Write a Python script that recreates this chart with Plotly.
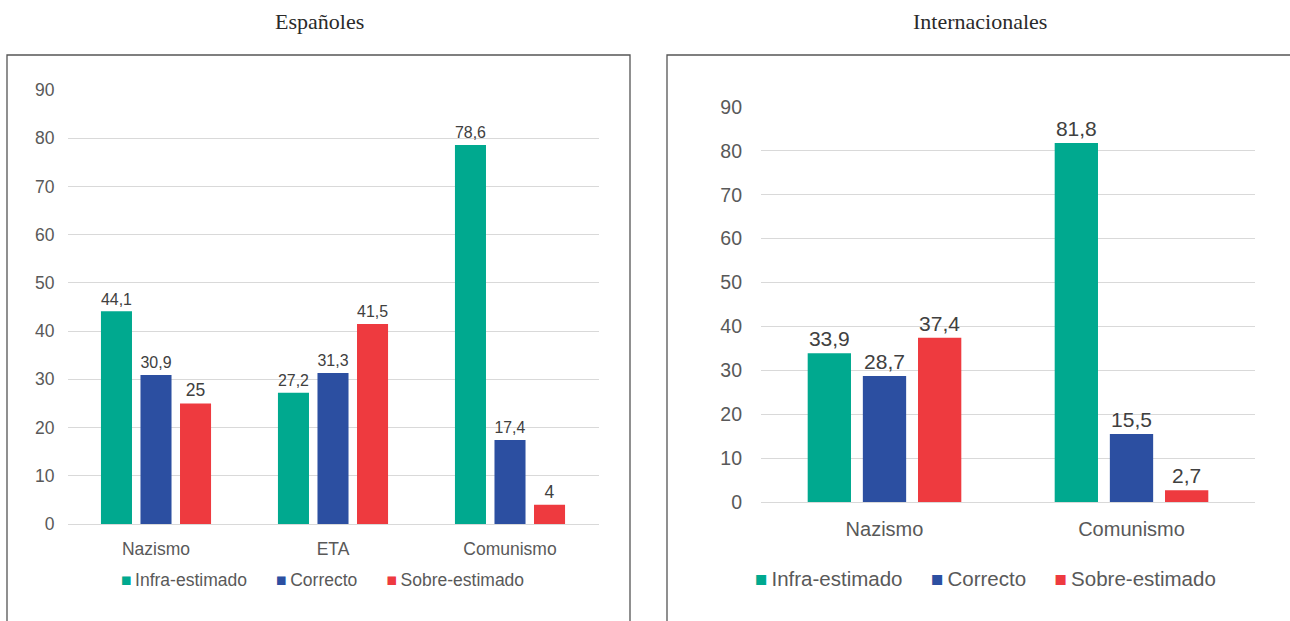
import plotly.graph_objects as go

W, H = 1290, 621

series = ["Infra-estimado", "Correcto", "Sobre-estimado"]
colors = ["#00A98F", "#2C4FA1", "#EE3A3F"]

cats_es = ["Nazismo", "ETA", "Comunismo"]
vals_es = {
    "Infra-estimado": [44.1, 27.2, 78.6],
    "Correcto": [30.9, 31.3, 17.4],
    "Sobre-estimado": [25, 41.5, 4],
}

cats_int = ["Nazismo", "Comunismo"]
vals_int = {
    "Infra-estimado": [33.9, 81.8],
    "Correcto": [28.7, 15.5],
    "Sobre-estimado": [37.4, 2.7],
}

y_ticks = [0, 10, 20, 30, 40, 50, 60, 70, 80, 90]

FONT = "Liberation Sans"
grid = "#D9D9D9"
tickc = "#595959"
labc = "#404040"


def fmt(v):
    return f"{v:g}".replace(".", ",")


fig = go.Figure()

for s, c in zip(series, colors):
    fig.add_trace(go.Bar(
        x=cats_es, y=vals_es[s], name=s, marker_color=c,
        marker_line_width=0, showlegend=False,
        text=[fmt(v) for v in vals_es[s]], textposition="outside",
        textfont=dict(size=17.5, color=labc, family=FONT),
        cliponaxis=False, xaxis="x", yaxis="y",
    ))

for s, c in zip(series, colors):
    fig.add_trace(go.Bar(
        x=cats_int, y=vals_int[s], name=s, marker_color=c,
        marker_line_width=0, showlegend=False,
        text=[fmt(v) for v in vals_int[s]], textposition="outside",
        textfont=dict(size=21, color=labc, family=FONT),
        cliponaxis=False, xaxis="x2", yaxis="y2",
    ))


def px_x(p):
    return p / W


def px_y(p):
    return 1 - p / H


def legend_text(gap):
    parts = []
    for s, c in zip(series, colors):
        parts.append(f'<span style="color:{c}">■</span>\u2009{s}')
    return gap.join(parts)


fig.update_layout(
    width=W, height=H,
    margin=dict(l=0, r=0, t=0, b=0, autoexpand=False),
    paper_bgcolor="white", plot_bgcolor="white",
    barmode="group",
    bargap=0.33, bargroupgap=0.215,
    showlegend=False,
    xaxis=dict(domain=[px_x(67.5), px_x(598.5)], showgrid=False,
               showline=True, linecolor=grid, linewidth=1,
               tickfont=dict(size=17.5, color=tickc, family=FONT),
               ticks="", ticklabelstandoff=9, anchor="y", automargin=False),
    yaxis=dict(domain=[px_y(524), px_y(90)], range=[0, 90],
               tickvals=y_ticks, showgrid=True, gridcolor=grid,
               zeroline=False, showline=False,
               tickfont=dict(size=17.5, color=tickc, family=FONT),
               ticks="", ticklabelstandoff=12, anchor="x", automargin=False),
    xaxis2=dict(domain=[px_x(761), px_x(1255)], showgrid=False,
                showline=True, linecolor=grid, linewidth=1,
                tickfont=dict(size=20, color=tickc, family=FONT),
                ticks="", ticklabelstandoff=9, anchor="y2", automargin=False),
    yaxis2=dict(domain=[px_y(502), px_y(107)], range=[0, 90],
                tickvals=y_ticks, showgrid=True, gridcolor=grid,
                zeroline=False, showline=False,
                tickfont=dict(size=19.5, color=tickc, family=FONT),
                ticks="", ticklabelstandoff=18, anchor="x2", automargin=False),
    annotations=[
        dict(text="Españoles", x=px_x(319), y=px_y(21), xref="paper", yref="paper",
             xanchor="center", yanchor="middle", showarrow=False,
             font=dict(size=22, color="#2a2a2a", family="Liberation Serif")),
        dict(text="Internacionales", x=px_x(980), y=px_y(21), xref="paper", yref="paper",
             xanchor="center", yanchor="middle", showarrow=False,
             font=dict(size=22, color="#2a2a2a", family="Liberation Serif")),
        dict(text=legend_text("      "), x=px_x(322), y=px_y(580), xref="paper", yref="paper",
             xanchor="center", yanchor="middle", showarrow=False,
             font=dict(size=17.5, color=tickc, family=FONT)),
        dict(text=legend_text("     "), x=px_x(985), y=px_y(578), xref="paper", yref="paper",
             xanchor="center", yanchor="middle", showarrow=False,
             font=dict(size=20.5, color=tickc, family=FONT)),
    ],
    shapes=[
        dict(type="rect", xref="paper", yref="paper", x0=px_x(7), x1=px_x(630),
             y0=px_y(640), y1=px_y(55), line=dict(color="#555555", width=1.3)),
        dict(type="rect", xref="paper", yref="paper", x0=px_x(667), x1=px_x(1300),
             y0=px_y(640), y1=px_y(55), line=dict(color="#555555", width=1.3)),
    ],
)

fig.write_html("out.html")
